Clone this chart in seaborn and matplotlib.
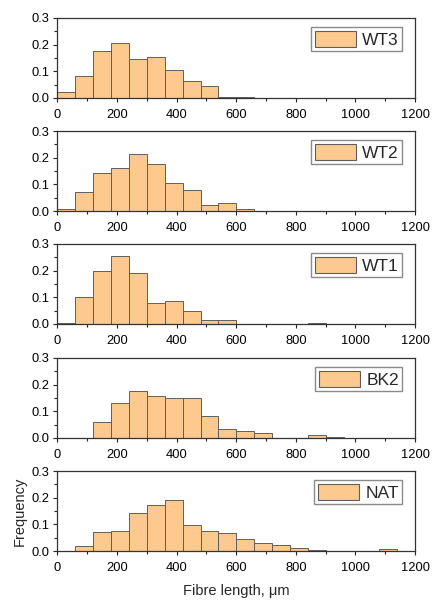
import numpy as np
import pandas as pd
import matplotlib
matplotlib.use("Agg")
import matplotlib.pyplot as plt
import seaborn as sns
from matplotlib.ticker import MultipleLocator
from matplotlib.patches import Patch

# ---- data ----
bin_edges = list(range(0, 1260, 60))          # fibre length bins, um
samples = ["WT3", "WT2", "WT1", "BK2", "NAT"]
wt3 = [0.022, 0.084, 0.177, 0.207, 0.145, 0.154, 0.104, 0.063, 0.045, 0.003,
       0.003, 0, 0, 0, 0, 0, 0, 0, 0, 0]
wt2 = [0.008, 0.070, 0.141, 0.160, 0.214, 0.175, 0.104, 0.078, 0.021, 0.029,
       0.007, 0, 0, 0, 0, 0, 0, 0, 0, 0]
wt1 = [0.003, 0.103, 0.200, 0.254, 0.190, 0.078, 0.085, 0.048, 0.015, 0.014,
       0, 0, 0, 0, 0.003, 0, 0, 0, 0, 0]
bk2 = [0, 0, 0.061, 0.130, 0.178, 0.156, 0.151, 0.151, 0.084, 0.033,
       0.028, 0.020, 0, 0, 0.010, 0.005, 0, 0, 0, 0]
nat = [0, 0.019, 0.072, 0.075, 0.141, 0.171, 0.190, 0.096, 0.075, 0.067,
       0.045, 0.030, 0.024, 0.010, 0.004, 0, 0, 0, 0.009, 0]
freqs = [wt3, wt2, wt1, bk2, nat]
x_ticks = [0, 200, 400, 600, 800, 1000, 1200]
y_ticks = [0.0, 0.1, 0.2, 0.3]

centers = [(a + b) / 2 for a, b in zip(bin_edges[:-1], bin_edges[1:])]
frames = []
for name, f in zip(samples, freqs):
    frames.append(pd.DataFrame({"sample": name, "length": centers, "freq": f}))
df = pd.concat(frames, ignore_index=True)

sns.set_theme(style="white")
plt.rcParams["font.family"] = ["Liberation Sans", "DejaVu Sans"]

W, H = 433, 601
fig = plt.figure(figsize=(W / 100, H / 100), dpi=100)
bar_color = "#FDC98F"
edge_color = "#5e5e5e"

tops = [18, 131, 244, 358, 471]
ph = 80
left, right = 57.5, 415

for i, name in enumerate(samples):
    ax = fig.add_axes([left / W, 1 - (tops[i] + ph) / H, (right - left) / W, ph / H])
    sub = df[df["sample"] == name]
    sns.histplot(data=sub, x="length", weights="freq", bins=bin_edges, ax=ax,
                 color=bar_color, edgecolor=edge_color, linewidth=0.7, alpha=1)
    ax.set_xlim(0, 1200)
    ax.set_ylim(0, 0.3)
    ax.set_xticks(x_ticks)
    ax.set_yticks(y_ticks)
    ax.set_yticklabels([f"{v:.1f}" for v in y_ticks])
    ax.xaxis.set_minor_locator(MultipleLocator(100))
    ax.yaxis.set_minor_locator(MultipleLocator(0.05))
    ax.tick_params(axis="both", which="major", direction="out", length=3, width=0.8,
                   labelsize=9.3, color="#222222", labelcolor="black",
                   bottom=True, left=True)
    ax.tick_params(axis="x", which="major", pad=5)
    ax.tick_params(axis="y", which="major", pad=3)
    ax.tick_params(axis="both", which="minor", direction="out", length=2, width=0.8,
                   color="#222222", bottom=True, left=True)
    for s in ax.spines.values():
        s.set_color("#333333")
        s.set_linewidth(0.9)
    ax.set_xlabel("")
    ax.set_ylabel("")
    handle = Patch(facecolor=bar_color, edgecolor=edge_color, linewidth=0.8)
    leg = ax.legend([handle], [name], loc="upper right", bbox_to_anchor=(0.965, 0.885),
                    borderaxespad=0, fontsize=12.5, handlelength=2.4, handleheight=1.1,
                    handletextpad=0.35, borderpad=0.2, fancybox=False, frameon=True,
                    framealpha=1)
    leg.get_frame().set_edgecolor("#8a8a8a")
    leg.get_frame().set_linewidth(1.0)
    if i == len(samples) - 1:
        ax.set_ylabel("Frequency", fontsize=10.5, labelpad=3)
        ax.set_xlabel("Fibre length, \u03bcm", fontsize=10.5, labelpad=7)

fig.savefig("out.png", dpi=100, facecolor="white")
